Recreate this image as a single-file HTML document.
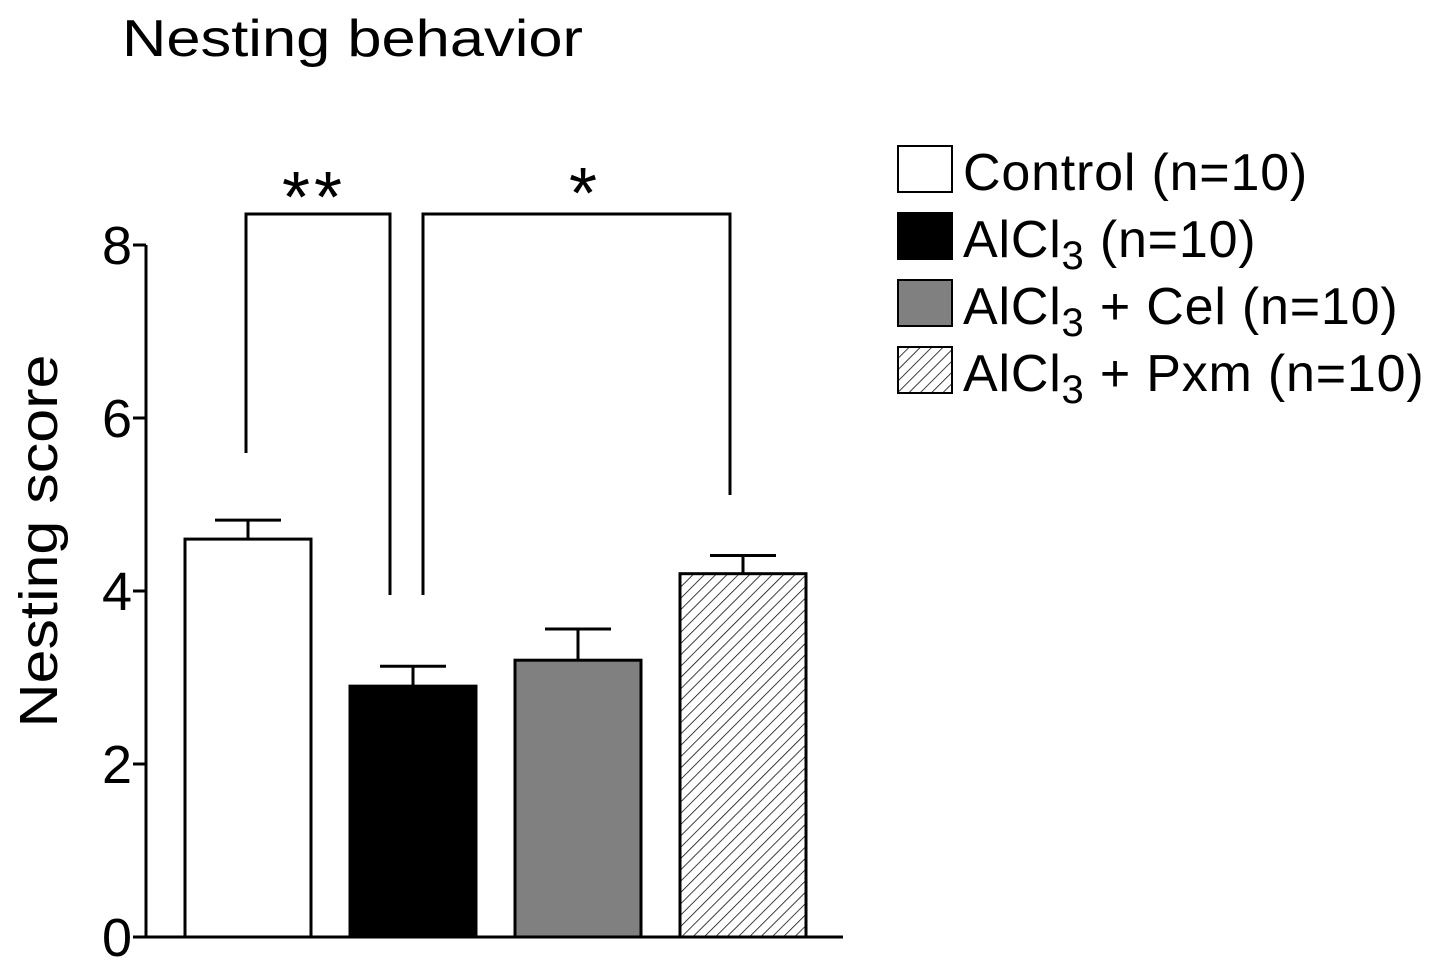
<!DOCTYPE html>
<html><head><meta charset="utf-8"><style>
body{margin:0;background:#fff;}
svg{display:block;font-family:"Liberation Sans",Arial,sans-serif;}
</style></head><body>
<svg id="chart" width="1441" height="970" viewBox="0 0 1441 970">
<defs>
<pattern id="hatch" patternUnits="userSpaceOnUse" width="8" height="8" patternTransform="rotate(45)">
<rect width="8" height="8" fill="#fff"/><line x1="0" y1="0" x2="0" y2="8" stroke="#000" stroke-width="1.5"/>
</pattern>
</defs>
<text x="122" y="56" font-size="52" textLength="461" lengthAdjust="spacingAndGlyphs">Nesting behavior</text>
<text transform="translate(57,541) rotate(-90)" text-anchor="middle" font-size="54" textLength="373" lengthAdjust="spacingAndGlyphs">Nesting score</text>
<g id="axes"></g><g id="bars"></g><g id="sig"></g><g id="legend"></g>
</svg>
<script>
const categories=["Control","AlCl3","AlCl3 + Cel","AlCl3 + Pxm"];
const means=[4.6,2.9,3.2,4.2];
const sems=[0.22,0.23,0.36,0.21];
const yTicks=[0,2,4,6,8];
const fills=["#fff","#000","#808080","url(#hatch)"];
const NS="http://www.w3.org/2000/svg";
const y0=937,yTop=245,yMax=8,xL=146,xR=843;
const y=v=>y0-(v/yMax)*(y0-yTop);
const barW=126;
const xc=i=>xL+39+barW/2+i*165;
function mk(t,a,p){const e=document.createElementNS(NS,t);for(const k in a)e.setAttribute(k,a[k]);p.appendChild(e);return e;}
const ax=document.getElementById('axes');
let l=mk('line',{x1:xL,y1:yTop,x2:xL,y2:y0,stroke:'#000','stroke-width':3},ax);


l=mk('line',{x1:xL,y1:y0,x2:xR,y2:y0,stroke:'#000','stroke-width':3},ax);


yTicks.forEach(v=>{
 const t=mk('line',{x1:xL-13,y1:y(v),x2:xL,y2:y(v),stroke:'#000','stroke-width':3},ax);
 
 
 const tx=mk('text',{x:xL-14,y:y(v)+19,'text-anchor':'end','font-size':54},ax);
 tx.textContent=v;
 
 
});
const bg=document.getElementById('bars');
means.forEach((m,i)=>{
 const cx=xc(i);
 const e=mk('line',{x1:cx,y1:y(m),x2:cx,y2:y(m+sems[i]),stroke:'#000','stroke-width':3},bg);
 
 
 const c=mk('line',{x1:cx-33,y1:y(m+sems[i]),x2:cx+33,y2:y(m+sems[i]),stroke:'#000','stroke-width':3},bg);
 
 
 const r=mk('rect',{x:cx-barW/2,y:y(m),width:barW,height:y0-y(m),fill:fills[i],stroke:'#000','stroke-width':3},bg);
 
 
});
const sg=document.getElementById('sig');
let p=mk('path',{d:'M246 453 V214 H390 V595',fill:'none',stroke:'#000','stroke-width':3},sg);


p=mk('path',{d:'M423 595 V214 H730 V495',fill:'none',stroke:'#000','stroke-width':3},sg);


let s=mk('text',{x:314,y:222,'text-anchor':'middle','font-size':72,'letter-spacing':4},sg);s.textContent='**';


s=mk('text',{x:583,y:218,'text-anchor':'middle','font-size':72},sg);s.textContent='*';


const lg=document.getElementById('legend');
const labels=[["Control (n=10)",""],["AlCl","3"," (n=10)"],["AlCl","3"," + Cel (n=10)"],["AlCl","3"," + Pxm (n=10)"]];
labels.forEach((lb,i)=>{
 const ty=146+i*67;
 const r=mk('rect',{x:898,y:ty,width:54,height:46,fill:fills[i],stroke:'#000','stroke-width':2},lg);
 
 
 const t=mk('text',{x:963,y:ty+44,'font-size':52,'letter-spacing':0.8},lg);
 
 
 if(lb.length===2){t.textContent=lb[0];}
 else{
  const a=mk('tspan',{},t);a.textContent=lb[0];
  const b=mk('tspan',{dy:12,'font-size':40},t);b.textContent=lb[1];
  const c=mk('tspan',{dy:-12},t);c.textContent=lb[2];
 }
});
</script>
</body></html>
